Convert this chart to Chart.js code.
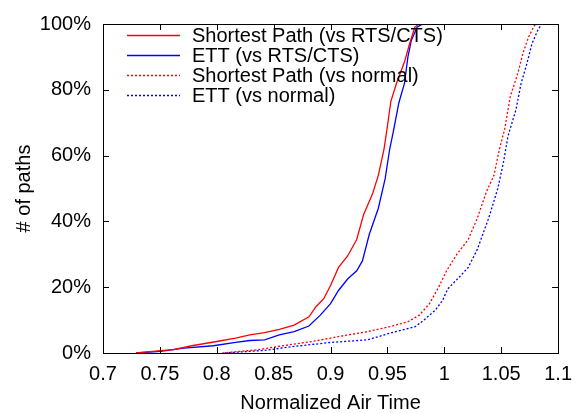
<!DOCTYPE html>
<html>
<head>
<meta charset="utf-8">
<script src="https://cdn.jsdelivr.net/npm/chart.js@4/dist/chart.umd.min.js"></script>
<style>
  html, body { margin: 0; padding: 0; background: #fff; }
  #wrap { width: 581px; height: 413px; position: relative; }
</style>
</head>
<body>
<div id="wrap"><canvas id="c" width="581" height="413"></canvas></div>
<script>
// ---- data ----
const seriesLabels = [
  'Shortest Path (vs RTS/CTS)',
  'ETT (vs RTS/CTS)',
  'Shortest Path (vs normal)',
  'ETT (vs normal)'
];
const xTicks = [0.7, 0.75, 0.8, 0.85, 0.9, 0.95, 1.0, 1.05, 1.1];
const yTicks = [0, 20, 40, 60, 80, 100];

// Shortest Path (vs RTS/CTS)
const spRtsX = [0.729, 0.7506, 0.762, 0.778, 0.800, 0.8166, 0.829, 0.842, 0.855, 0.868, 0.881, 0.887, 0.894, 0.900, 0.907, 0.915, 0.923, 0.929, 0.937, 0.942, 0.947, 0.950, 0.953, 0.958, 0.965, 0.9695, 0.974, 0.9776];
const spRtsY = [0, 0.7, 1.0, 2.2, 3.5, 4.5, 5.5, 6.2, 7.2, 8.5, 11, 14, 16.5, 20.5, 26, 29.5, 34.5, 42, 48.5, 54, 62, 69, 76.5, 82, 88.5, 94, 99, 100];
// ETT (vs RTS/CTS)
const ettRtsX = [0.729, 0.7506, 0.771, 0.797, 0.8166, 0.829, 0.842, 0.855, 0.868, 0.881, 0.891, 0.900, 0.907, 0.915, 0.923, 0.928, 0.934, 0.942, 0.948, 0.952, 0.955, 0.960, 0.965, 0.968, 0.971, 0.976, 0.981];
const ettRtsY = [0, 0.5, 1.5, 2.2, 3.2, 3.8, 4.0, 5.5, 6.5, 8.2, 11.5, 15, 19, 22.5, 25, 28, 36, 44, 53, 62, 67, 76, 82, 90, 95, 99, 100];
// Shortest Path (vs normal)
const spNormX = [0.805, 0.836, 0.858, 0.884, 0.907, 0.9325, 0.952, 0.968, 0.978, 0.987, 0.995, 1.002, 1.011, 1.021, 1.029, 1.037, 1.0436, 1.0485, 1.053, 1.058, 1.0646, 1.069, 1.074, 1.079, 1.081];
const spNormY = [0, 1.0, 2.2, 3.5, 5.0, 6.5, 8.0, 9.5, 11.5, 15, 20, 25, 30, 34.5, 41, 49, 54, 62, 68, 78, 85, 91, 96, 99.5, 100];
// ETT (vs normal)
const ettNormX = [0.807, 0.842, 0.868, 0.900, 0.9325, 0.952, 0.9745, 0.982, 0.992, 0.9985, 1.003, 1.013, 1.021, 1.029, 1.039, 1.047, 1.052, 1.056, 1.063, 1.0675, 1.0726, 1.077, 1.082, 1.0855];
const ettNormY = [0, 0.8, 2.0, 3.2, 4.0, 6.0, 8.0, 10, 13, 16, 19.5, 23, 26, 31.5, 41, 50, 58, 66, 74, 82, 88, 94, 98, 100];

// ---- build ----
const FONT = "'Liberation Sans', Arial, Helvetica, sans-serif";
function pts(xs, ys) { return xs.map((x, i) => ({ x: x, y: ys[i] })); }
const RED = '#ff0000', BLUE = '#0000ff';
const styles = [
  { color: RED, dash: [] },
  { color: BLUE, dash: [] },
  { color: RED, dash: [2, 2] },
  { color: BLUE, dash: [2, 2] }
];
const seriesData = [pts(spRtsX, spRtsY), pts(ettRtsX, ettRtsY), pts(spNormX, spNormY), pts(ettNormX, ettNormY)];

const datasets = seriesData.map((d, i) => ({
  label: seriesLabels[i],
  data: d,
  showLine: true,
  borderColor: styles[i].color,
  backgroundColor: styles[i].color,
  borderDash: styles[i].dash,
  borderWidth: 1.3,
  pointRadius: 0,
  tension: 0,
  fill: false
}));

const frameAndTicks = {
  id: 'frameAndTicks',
  afterDatasetsDraw(chart) {
    const { ctx, chartArea: a, scales: { x, y } } = chart;
    ctx.save();
    ctx.strokeStyle = '#000';
    ctx.lineWidth = 1;
    ctx.setLineDash([]);
    const TL = 6;
    ctx.beginPath();
    xTicks.forEach(v => {
      const px = Math.round(x.getPixelForValue(v)) + 0.5;
      ctx.moveTo(px, a.bottom); ctx.lineTo(px, a.bottom - TL);
      ctx.moveTo(px, a.top); ctx.lineTo(px, a.top + TL);
    });
    yTicks.forEach(v => {
      const py = Math.round(y.getPixelForValue(v)) + 0.5;
      ctx.moveTo(a.left, py); ctx.lineTo(a.left + TL, py);
      ctx.moveTo(a.right, py); ctx.lineTo(a.right - TL, py);
    });
    ctx.stroke();
    ctx.strokeRect(Math.round(a.left) + 0.5, Math.round(a.top) + 0.5, Math.round(a.right - a.left), Math.round(a.bottom - a.top));
    // legend
    ctx.font = '20px ' + FONT;
    ctx.textBaseline = 'middle';
    ctx.textAlign = 'left';
    ctx.fillStyle = '#000';
    chart.data.datasets.forEach((ds, i) => {
      const yy = 35 + i * 20;
      ctx.beginPath();
      ctx.strokeStyle = ds.borderColor;
      ctx.lineWidth = 1.3;
      ctx.setLineDash(ds.borderDash);
      ctx.moveTo(127, yy + 0.5); ctx.lineTo(180, yy + 0.5);
      ctx.stroke();
      ctx.fillText(ds.label, 192, yy + 1);
    });
    ctx.restore();
  }
};

new Chart(document.getElementById('c'), {
  type: 'scatter',
  data: { datasets },
  options: {
    responsive: false,
    animation: false,
    devicePixelRatio: 1,
    layout: { padding: { left: 0, top: 23, right: 18, bottom: 0 } },
    plugins: { legend: { display: false }, tooltip: { enabled: false } },
    scales: {
      x: {
        type: 'linear', min: 0.7, max: 1.1,
        afterBuildTicks: s => { s.ticks = xTicks.map(v => ({ value: v })); },
        afterFit: s => { s.height = 60; },
        grid: { display: false, drawTicks: false },
        border: { display: false },
        ticks: {
          color: '#000', padding: 9,
          font: { family: FONT, size: 20 },
          maxRotation: 0, autoSkip: false,
          callback: v => String(Number(v.toFixed(2)))
        },
        title: { display: true, text: 'Normalized Air Time', color: '#000', font: { family: FONT, size: 20 }, padding: { top: 0, bottom: -2 } }
      },
      y: {
        type: 'linear', min: 0, max: 100,
        afterBuildTicks: s => { s.ticks = yTicks.map(v => ({ value: v })); },
        afterFit: s => { s.width = 103; },
        grid: { display: false, drawTicks: false },
        border: { display: false },
        ticks: {
          color: '#000', padding: 12,
          font: { family: FONT, size: 20 },
          callback: v => v + '%'
        },
        title: { display: true, text: '# of paths', color: '#000', font: { family: FONT, size: 20 }, padding: { top: 12, bottom: 0 } }
      }
    }
  },
  plugins: [frameAndTicks]
});
</script>
</body>
</html>
